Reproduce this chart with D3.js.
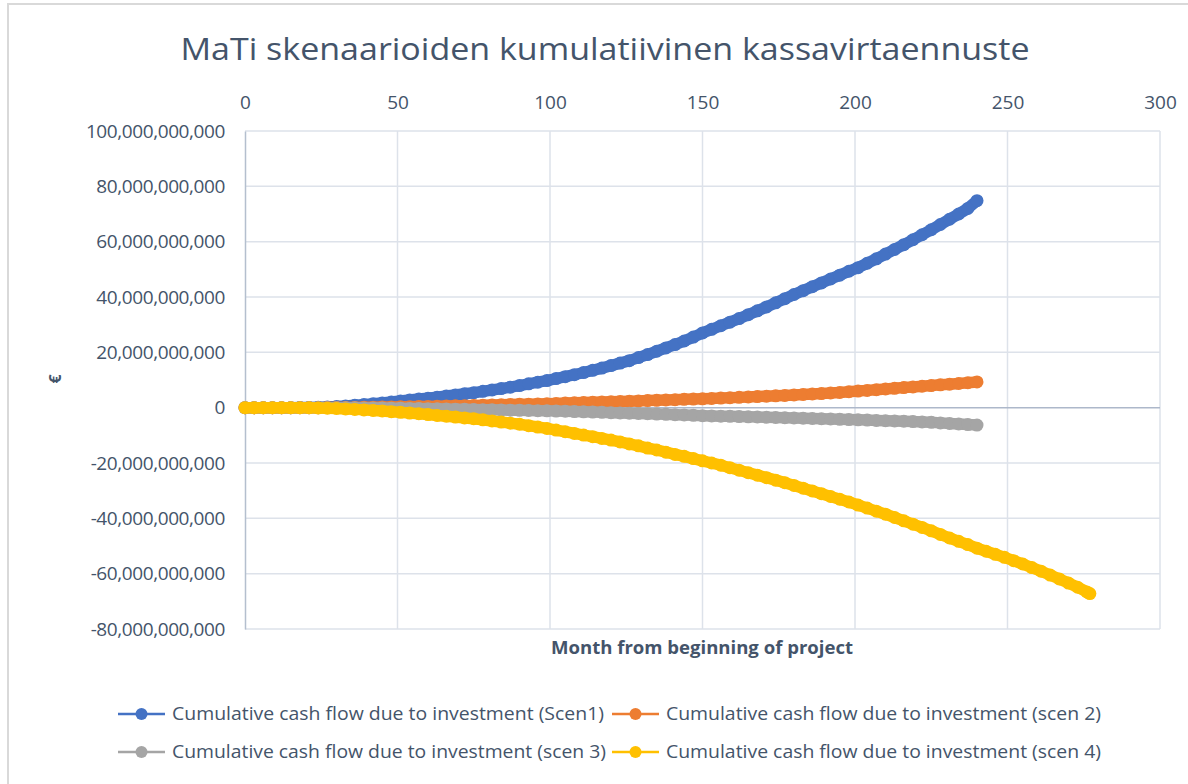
<!DOCTYPE html>
<html>
<head>
<meta charset="utf-8">
<script src="https://cdn.jsdelivr.net/npm/d3@7"></script>
<style>
  body { margin: 0; background: #fff; }
  svg text { font-family: "Open Sans", sans-serif; }
</style>
</head>
<body>
<div id="chart"></div>
<script>
// months on the x axis (scen 1-3 run to month 240, scen 4 to month 277)
const months = [0,3,6,9,12,15,18,21,24,27,30,33,36,39,42,45,48,51,54,57,60,63,66,69,72,75,78,81,84,87,90,93,96,99,102,105,108,111,114,117,120,123,126,129,132,135,138,141,144,147,150,153,156,159,162,165,168,171,174,177,180,183,186,189,192,195,198,201,204,207,210,213,216,219,222,225,228,231,234,237,240];
const months4 = months.concat([243,246,249,252,255,258,261,264,267,270,273,276,277]);

// cumulative cash flow, billions of €
const scen1 = [0,0,0,0,0,0,0.02,0.08,0.15,0.28,0.4,0.6,0.85,1.1,1.4,1.7,2.05,2.4,2.75,3.1,3.4,3.8,4.2,4.6,5.0,5.4,5.9,6.4,6.9,7.4,8.0,8.6,9.2,9.8,10.5,11.2,11.9,12.7,13.5,14.3,15.2,16.1,17.0,18.1,19.2,20.4,21.6,22.8,24.1,25.5,27.0,28.3,29.6,30.9,32.2,33.6,35.0,36.4,37.9,39.4,40.9,42.3,43.7,45.1,46.5,47.9,49.3,50.6,52.2,53.8,55.5,57.2,58.9,60.7,62.5,64.3,66.2,68.1,70.0,72.0,74.8];
const scen2 = [0,0,0,0,0,0,0,0,0,0.02,0.04,0.06,0.09,0.12,0.16,0.2,0.25,0.3,0.35,0.4,0.46,0.52,0.58,0.65,0.72,0.8,0.88,0.96,1.04,1.12,1.2,1.28,1.37,1.46,1.55,1.65,1.75,1.85,1.95,2.05,2.15,2.25,2.35,2.45,2.56,2.67,2.78,2.89,3.0,3.1,3.2,3.33,3.46,3.59,3.72,3.86,4.0,4.14,4.28,4.43,4.6,4.77,4.94,5.11,5.3,5.5,5.75,6.0,6.25,6.5,6.75,7.0,7.25,7.5,7.75,8.0,8.25,8.5,8.75,9.0,9.3];
const scen3 = [0,0,0,0,0,0,0,0,0,0,-0.01,-0.03,-0.05,-0.08,-0.11,-0.14,-0.18,-0.22,-0.27,-0.32,-0.37,-0.42,-0.48,-0.54,-0.6,-0.66,-0.72,-0.78,-0.84,-0.9,-0.96,-1.02,-1.08,-1.14,-1.22,-1.3,-1.4,-1.5,-1.6,-1.7,-1.8,-1.9,-2.0,-2.1,-2.2,-2.3,-2.42,-2.54,-2.66,-2.78,-2.9,-2.98,-3.06,-3.14,-3.22,-3.3,-3.38,-3.46,-3.55,-3.64,-3.73,-3.82,-3.91,-4.0,-4.1,-4.2,-4.3,-4.4,-4.5,-4.6,-4.7,-4.8,-4.92,-5.04,-5.16,-5.3,-5.5,-5.7,-5.9,-6.1,-6.3];
const scen4 = [0,0,0,0,0,0,0,-0.03,-0.08,-0.17,-0.3,-0.45,-0.62,-0.8,-1.0,-1.2,-1.45,-1.7,-1.95,-2.2,-2.5,-2.8,-3.1,-3.4,-3.7,-4.0,-4.4,-4.8,-5.2,-5.6,-6.0,-6.5,-7.0,-7.5,-8.1,-8.7,-9.3,-9.9,-10.5,-11.1,-11.7,-12.4,-13.1,-13.8,-14.6,-15.3,-16.1,-16.9,-17.6,-18.4,-19.2,-20.0,-20.8,-21.7,-22.6,-23.5,-24.4,-25.3,-26.2,-27.1,-28.1,-29.1,-30.1,-31.1,-32.1,-33.1,-34.1,-35.2,-36.3,-37.4,-38.5,-39.7,-40.9,-42.1,-43.3,-44.5,-45.8,-47.1,-48.3,-49.5,-50.8,-51.9,-53.0,-54.1,-55.3,-56.5,-57.8,-59.1,-60.5,-61.9,-63.4,-64.9,-66.6,-67.2];

const seriesNames = [
  "Cumulative cash flow due to investment (Scen1)",
  "Cumulative cash flow due to investment (scen 2)",
  "Cumulative cash flow due to investment (scen 3)",
  "Cumulative cash flow due to investment (scen 4)"
];
const colors = ["#4472C4", "#ED7D31", "#A5A5A5", "#FFC000"];
const xTicks = [0, 50, 100, 150, 200, 250, 300];
const yTicks = [-80e9, -60e9, -40e9, -20e9, 0, 20e9, 40e9, 60e9, 80e9, 100e9];

const W = 1188, H = 784;
const txt = "#44546A";

const svg = d3.select("#chart").append("svg")
  .attr("width", W).attr("height", H);

// chart border
svg.append("rect")
  .attr("x", 8).attr("y", 4).attr("width", W).attr("height", H + 10)
  .attr("fill", "#fff").attr("stroke", "#d9d9d9").attr("stroke-width", 2);

const x = d3.scaleLinear().domain([0, 300]).range([245, 1160]);
const y = d3.scaleLinear().domain([-80e9, 100e9]).range([629, 131]);

// gridlines
svg.append("g")
  .selectAll("line")
  .data(yTicks.filter(d => d !== 0))
  .join("line")
  .attr("x1", x(0)).attr("x2", x(300))
  .attr("y1", d => y(d)).attr("y2", d => y(d))
  .attr("stroke", "#dde2ea").attr("stroke-width", 1.5);

svg.append("g")
  .selectAll("line")
  .data(xTicks.filter(d => d !== 0))
  .join("line")
  .attr("x1", d => x(d)).attr("x2", d => x(d))
  .attr("y1", y(100e9)).attr("y2", y(-80e9))
  .attr("stroke", "#dde2ea").attr("stroke-width", 1.5);

// axes (x axis crosses at 0, labels placed on top)
const fmt = d3.format(",");
const yAxis = svg.append("g")
  .attr("transform", `translate(${x(0)},0)`)
  .call(d3.axisLeft(y).tickValues(yTicks).tickSize(0).tickPadding(20)
    .tickFormat(d => fmt(Math.round(d)).replace("\u2212", "-")));
yAxis.select(".domain").attr("stroke", "#b4bfce").attr("stroke-width", 1.5);
yAxis.selectAll("text")
  .attr("fill", txt).attr("font-size", 19).style("letter-spacing", "-0.4px")
  .attr("font-family", "Open Sans");

svg.append("line")
  .attr("x1", x(0)).attr("x2", x(300))
  .attr("y1", y(0)).attr("y2", y(0))
  .attr("stroke", "#adb8ca").attr("stroke-width", 1.5);

const xAxis = svg.append("g")
  .attr("transform", `translate(0,${y(100e9) - 22})`)
  .call(d3.axisTop(x).tickValues(xTicks).tickSize(0).tickPadding(0));
xAxis.select(".domain").remove();
xAxis.selectAll("text")
  .attr("fill", txt).attr("font-size", 19).attr("font-family", "Open Sans");

// series: line with a marker at each point
const allSeries = [
  { xs: months, ys: scen1 },
  { xs: months, ys: scen2 },
  { xs: months, ys: scen3 },
  { xs: months4, ys: scen4 }
];

const line = d3.line().x(d => x(d[0])).y(d => y(d[1] * 1e9));

allSeries.forEach(function (s, i) {
  const pts = s.xs.map((m, j) => [m, s.ys[j]]);
  const g = svg.append("g");
  // dense monthly markers blend into one thick band
  g.append("path")
    .attr("d", line(pts))
    .attr("fill", "none")
    .attr("stroke", colors[i])
    .attr("stroke-width", 11.5)
    .attr("stroke-linecap", "round")
    .attr("stroke-linejoin", "round");
  g.selectAll("circle")
    .data(pts)
    .join("circle")
    .attr("cx", d => x(d[0]))
    .attr("cy", d => y(d[1] * 1e9))
    .attr("r", 6.5)
    .attr("fill", colors[i]);
});

// fit a text element to a target width
function fit(sel, w) {
  sel.attr("textLength", w).attr("lengthAdjust", "spacingAndGlyphs");
}

// title
svg.append("text")
  .attr("x", 605).attr("y", 60)
  .attr("text-anchor", "middle")
  .attr("font-size", 31).attr("fill", txt)
  .text("MaTi skenaarioiden kumulatiivinen kassavirtaennuste")
  .call(fit, 849);

// axis titles
svg.append("text")
  .attr("x", 702).attr("y", 654)
  .attr("text-anchor", "middle")
  .attr("font-size", 17).attr("font-weight", "bold").attr("fill", txt)
  .text("Month from beginning of project")
  .call(fit, 302);

svg.append("text")
  .attr("transform", "translate(61,379) rotate(-90)")
  .attr("text-anchor", "middle")
  .attr("font-size", 16).attr("font-weight", "bold").attr("fill", txt)
  .text("€");

// legend
const legendPos = [[118, 714], [612, 714], [118, 752], [612, 752]];
const legendW = [432, 435, 434, 435];
seriesNames.forEach(function (name, i) {
  const [lx, ly] = legendPos[i];
  const g = svg.append("g").attr("transform", `translate(${lx},${ly})`);
  g.append("line")
    .attr("x1", 0).attr("x2", 47).attr("y1", 0).attr("y2", 0)
    .attr("stroke", colors[i]).attr("stroke-width", 2.5);
  g.append("circle")
    .attr("cx", 23.5).attr("cy", 0).attr("r", 6)
    .attr("fill", colors[i]);
  g.append("text")
    .attr("x", 54).attr("y", 0).attr("dy", "0.35em")
    .attr("font-size", 18).attr("fill", txt)
    .text(name)
    .call(fit, legendW[i]);
});
</script>
</body>
</html>
